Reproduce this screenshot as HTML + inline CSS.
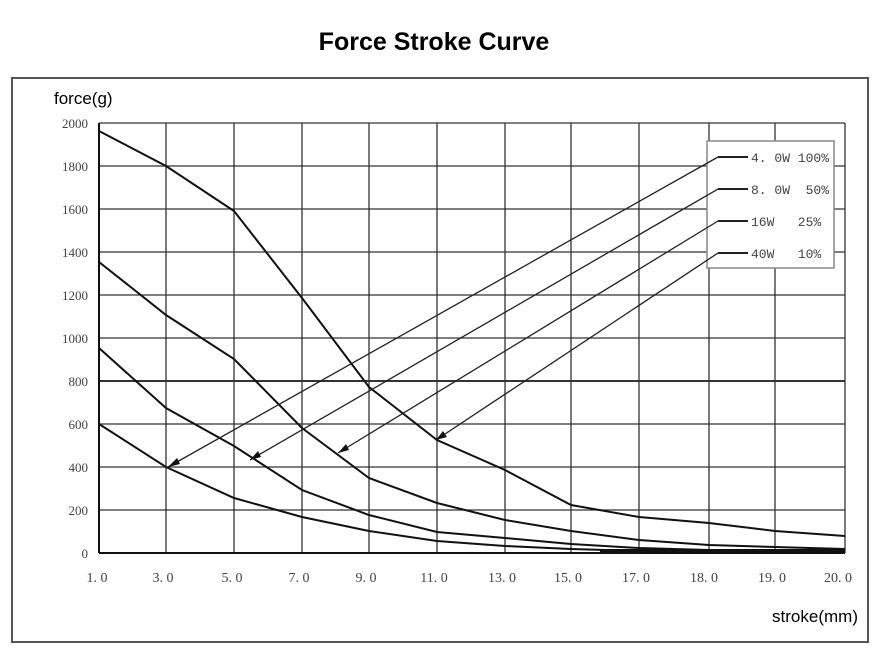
<!DOCTYPE html>
<html><head><meta charset="utf-8"><style>body{margin:0;background:#fff}svg{display:block}</style></head>
<body>
<svg width="880" height="653" xmlns="http://www.w3.org/2000/svg">
<rect x="0" y="0" width="880" height="653" fill="#fff"/>
<text x="434" y="50" text-anchor="middle" font-family="Liberation Sans, sans-serif" font-weight="bold" font-size="25" fill="#000">Force Stroke Curve</text>
<rect x="12" y="78" width="856" height="564" fill="none" stroke="#555" stroke-width="2"/>
<text x="54" y="104" font-family="Liberation Sans, sans-serif" font-size="17" fill="#000">force(g)</text>
<text x="858" y="622" text-anchor="end" font-family="Liberation Sans, sans-serif" font-size="17" fill="#000">stroke(mm)</text>
<g stroke="#333" stroke-width="1.3">
<line x1="99" y1="123" x2="845" y2="123"/><line x1="99" y1="166" x2="845" y2="166"/><line x1="99" y1="209" x2="845" y2="209"/><line x1="99" y1="252" x2="845" y2="252"/><line x1="99" y1="295" x2="845" y2="295"/><line x1="99" y1="338" x2="845" y2="338"/><line x1="99" y1="381" x2="845" y2="381" stroke-width="2"/><line x1="99" y1="424" x2="845" y2="424"/><line x1="99" y1="467" x2="845" y2="467"/><line x1="99" y1="510" x2="845" y2="510"/>
<line x1="166" y1="123" x2="166" y2="553"/><line x1="234" y1="123" x2="234" y2="553"/><line x1="302" y1="123" x2="302" y2="553"/><line x1="369" y1="123" x2="369" y2="553"/><line x1="437" y1="123" x2="437" y2="553"/><line x1="505" y1="123" x2="505" y2="553"/><line x1="571" y1="123" x2="571" y2="553"/><line x1="639" y1="123" x2="639" y2="553"/><line x1="709" y1="123" x2="709" y2="553"/><line x1="775" y1="123" x2="775" y2="553"/><line x1="845" y1="123" x2="845" y2="553"/>
</g>
<line x1="99" y1="123" x2="99" y2="553" stroke="#111" stroke-width="2"/>
<line x1="99" y1="553" x2="845" y2="553" stroke="#111" stroke-width="2"/>
<rect x="600" y="549" width="245" height="4" fill="#111"/>
<g font-family="Liberation Serif, serif" font-size="13" fill="#444" text-anchor="end">
<text x="88" y="128">2000</text><text x="88" y="171">1800</text><text x="88" y="214">1600</text><text x="88" y="257">1400</text><text x="88" y="300">1200</text><text x="88" y="343">1000</text><text x="88" y="386">800</text><text x="88" y="429">600</text><text x="88" y="472">400</text><text x="88" y="515">200</text><text x="88" y="558">0</text>
</g>
<g font-family="Liberation Serif, serif" font-size="14" fill="#444" text-anchor="middle">
<text x="97" y="582">1. 0</text><text x="163" y="582">3. 0</text><text x="232" y="582">5. 0</text><text x="299" y="582">7. 0</text><text x="366" y="582">9. 0</text><text x="434" y="582">11. 0</text><text x="502" y="582">13. 0</text><text x="568" y="582">15. 0</text><text x="636" y="582">17. 0</text><text x="704" y="582">18. 0</text><text x="772" y="582">19. 0</text><text x="838" y="582">20. 0</text>
</g>
<g fill="none" stroke="#111" stroke-width="2">
<polyline points="99,131 166,166 234,211 302,298 369,387 437,440 505,470 571,505 639,517 709,523 775,531 845,536"/>
<polyline points="99,262 166,315 234,359 302,428 369,478 437,503 505,520 571,531 639,540 709,545 775,547 845,549"/>
<polyline points="99,348 166,408 234,446 302,490 369,515 437,532 505,538 571,544 639,548 709,550 845,551"/>
<polyline points="99,424 166,467 234,498 302,517 369,531 437,541 505,546 571,549 639,551 845,552"/>
</g>
<rect x="707" y="141" width="127" height="127" fill="#fff" stroke="#888" stroke-width="1.5"/>
<g stroke="#222" stroke-width="1.3">
<line x1="718" y1="157" x2="168" y2="467"/><line x1="718" y1="189" x2="250" y2="460"/><line x1="718" y1="221" x2="338" y2="453"/><line x1="718" y1="253" x2="436" y2="440"/>
<line x1="718" y1="157" x2="748" y2="157" stroke-width="2"/><line x1="718" y1="189" x2="748" y2="189" stroke-width="2"/><line x1="718" y1="221" x2="748" y2="221" stroke-width="2"/><line x1="718" y1="253" x2="748" y2="253" stroke-width="2"/>
</g>
<g fill="#111">
<polygon points="168,467 177,458 180,464"/><polygon points="250,460 258,451 261,457"/><polygon points="338,453 346,444 349,450"/><polygon points="436,440 443,431 447,437"/>
</g>
<g font-family="Liberation Mono, monospace" font-size="13" fill="#444">
<text x="751" y="162">4. 0W 100%</text><text x="751" y="194">8. 0W&#160;&#160;50%</text><text x="751" y="226">16W&#160;&#160;&#160;25%</text><text x="751" y="258">40W&#160;&#160;&#160;10%</text>
</g>
</svg>
</body></html>
